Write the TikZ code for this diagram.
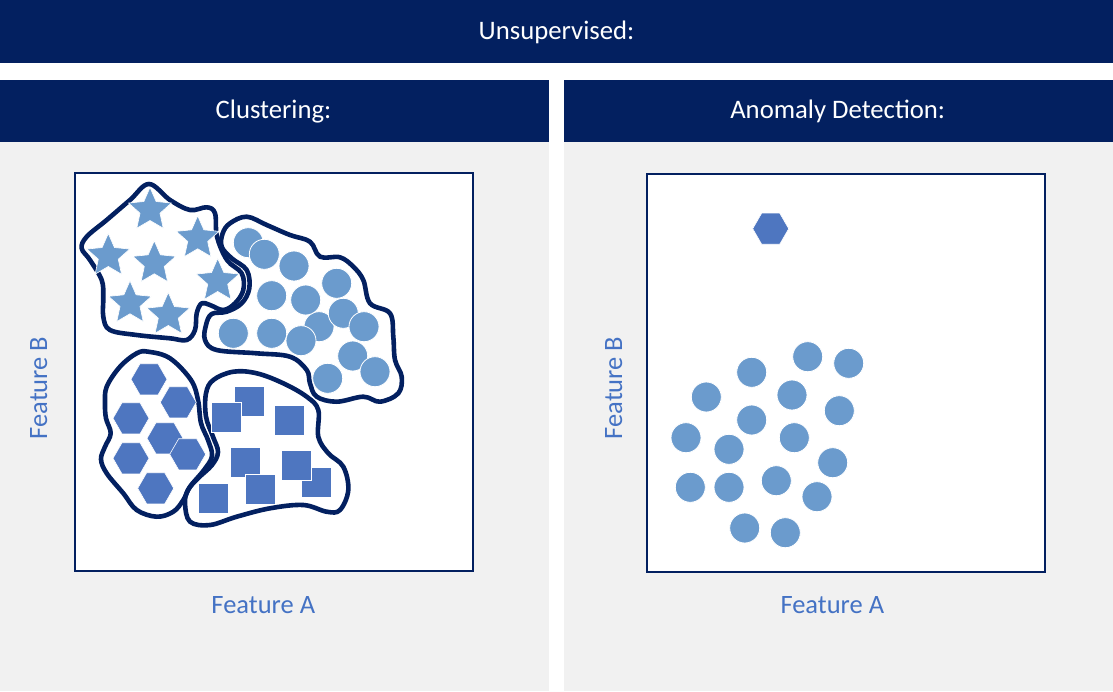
\documentclass[tikz,border=0pt]{standalone}
\usepackage{fontspec}
\setmainfont{Carlito}
\usetikzlibrary{shapes.geometric}

\definecolor{navy}{HTML}{032060}
\definecolor{panelgray}{HTML}{F1F1F1}
\definecolor{lightblue}{HTML}{6B9BCD}
\definecolor{midblue}{HTML}{4E76C0}
\definecolor{labelblue}{HTML}{4472C4}

\tikzset{
  headtext/.style={text=white, font=\fontsize{26.7}{30}\selectfont, anchor=base, inner sep=0pt},
  axistext/.style={text=labelblue, font=\fontsize{26.5}{30}\selectfont, anchor=base, inner sep=0pt},
  plotbox/.style={draw=navy, fill=white, line width=2pt, minimum width=398pt, minimum height=398pt, inner sep=0pt},
  blob/.style={draw=navy, line width=4.6pt, line join=round},
  starmark/.style={star, star points=5, star point ratio=2.15, minimum size=45pt, inner sep=0pt,
                   fill=lightblue, draw=white, line width=0.6pt},
  dotmark/.style={circle, minimum size=30pt, inner sep=0pt, fill=lightblue, draw=white, line width=0.8pt},
  hexmark/.style={regular polygon, regular polygon sides=6, minimum size=36pt, inner sep=0pt,
                  fill=midblue, draw=white, line width=0.6pt},
  sqmark/.style={rectangle, minimum size=30pt, inner sep=0pt, fill=midblue, draw=white, line width=0.6pt}
}

\begin{document}
\begin{tikzpicture}[x=1pt, y=-1pt]
  \useasboundingbox (0,0) rectangle (1113,691);
  \fill[white] (0,0) rectangle (1113,691);

  % banners and panels
  \fill[navy] (0,0) rectangle (1113,62.7);
  \fill[navy] (0,80) rectangle (549,141.7);
  \fill[navy] (564,80) rectangle (1113,141.7);
  \fill[panelgray] (0,141.7) rectangle (549,691);
  \fill[panelgray] (564,141.7) rectangle (1113,691);

  \node[headtext] (tUnsup) at (556.5,39.3) {Unsupervised:};
  \node[headtext] (tClust) at (273.5,118.3) {Clustering:};
  \node[headtext] (tAnom) at (837.7,118.3) {Anomaly Detection:};

  % plot frames
  \node[plotbox] (boxL) at (274,372) {};
  \node[plotbox] (boxR) at (846,372.5) {};

  % axis labels
  \node[axistext] (xL) at (263.3,613.3) {Feature A};
  \node[axistext, rotate=90] (yL) at (47,388) {Feature B};
  \node[axistext] (xR) at (832.3,613.3) {Feature A};
  \node[axistext, rotate=90] (yR) at (622,388) {Feature B};

  % ---- clustering panel ----
  % cluster outlines
  \draw[blob] plot[smooth cycle, tension=0.6] coordinates {
    (149,184) (170,200) (190,210) (206.7,207.3) (215,213.3) (217,236.7)
    (227,260) (241.7,273.3) (243.3,290) (235,303.3) (223.3,310) (210,305)
    (201.7,303.3) (196.7,313.3) (195,330) (186.7,340) (170,338.3) (136.7,335)
    (110,330) (103.3,316.7) (103.3,296.7) (101.7,280) (90,260) (81.7,248.3)
    (86.7,236.7) (106.7,220) (130,200)};
  \draw[blob] plot[smooth cycle, tension=0.6] coordinates {
    (230,223.3) (246.7,216.7) (266.7,225) (290,235) (310,241.7) (320,256.7)
    (340,257.3) (353.3,266.7) (363.3,280) (370,303.3) (390,313.3) (393.3,336.7)
    (395,360) (401.7,376.7) (398.3,393.3) (380,401.7) (363.3,396.7) (336.7,401.7)
    (316.7,396.7) (310,383.3) (306.7,370) (290,356.7) (256.7,353.3) (216.7,350)
    (205,340) (206,325) (211.7,314) (226.7,311.7) (241.7,303.3) (249.3,288.3)
    (246.7,270) (231.7,258.3) (221.7,246.7) (222.7,233.3)};
  \draw[blob] plot[smooth cycle, tension=0.6] coordinates {
    (148.3,351.7) (170,358.3) (191,380) (198,400) (201,423) (208,440) (212,456)
    (204,470) (190,486.7) (183.3,500) (173.3,511.7) (156.7,516.7) (136.7,510)
    (123.3,493.3) (106.7,473.3) (101,459.3) (105,446.7) (110.7,433.3) (106,418.3)
    (105,403.3) (106.7,386.7) (120,366.7) (136.7,353.3)};
  \draw[blob] plot[smooth cycle, tension=0.6] coordinates {
    (233.3,371.7) (256.7,373.3) (283.3,383.3) (306.7,396.7) (318.3,410)
    (318.3,436.7) (328.3,453.3) (343.3,466.7) (348.3,490) (340,510) (326.7,511.7)
    (303.3,505) (270,508.3) (236.7,516.7) (210,525) (190,521.7) (185,503.3)
    (188,490) (198,478.3) (212,465) (218,452) (213,436.7) (206,416.7)
    (206,393.3) (213.3,380)};

  % stars
  \foreach \px/\py [count=\i] in {150/210, 197.7/238.3, 108.3/256, 154.3/263.3,
                                   217.7/281, 130/303.3, 168.3/315}
    \node[starmark] (star\i) at (\px,\py) {};

  % circles (back ones first)
  \foreach \px/\py [count=\i] in {248.3/242.7, 319/326.7, 264.3/254.3, 294/266,
      336.7/283.3, 271.7/295.7, 305.7/300, 343.3/313.3, 364/326.7, 233.3/333.3,
      271.7/333.3, 301/340.7, 352.7/356, 327.7/378.3, 375/371.7}
    \node[dotmark] (dotL\i) at (\px,\py) {};

  % hexagons
  \foreach \px/\py [count=\i] in {149/379.3, 178.3/402.3, 131/418.3, 165/438.3,
                                   187.7/454.3, 131/458.3, 155.7/488.3}
    \node[hexmark] (hex\i) at (\px,\py) {};

  % squares (back ones first)
  \foreach \px/\py [count=\i] in {249/401.7, 316.7/482.7, 245/462.3, 226.7/417.3,
                                   289.7/420, 296.3/465, 213.3/498.3, 260/489.3}
    \node[sqmark] (sq\i) at (\px,\py) {};

  % ---- anomaly panel ----
  \node[hexmark] (outlier) at (770.7,228.7) {};
  \foreach \px/\py [count=\i] in {807.7/356.7, 848.7/363.3, 751.7/372.3, 706.3/397,
      792/395, 839.3/410.7, 751.7/420, 686/437.7, 729/449.3, 794.3/437.7,
      832.7/462.7, 690.3/487.3, 729/487.3, 776.3/480.7, 817/496.7, 744.7/528,
      785.3/532.7}
    \node[dotmark] (dotR\i) at (\px,\py) {};
\end{tikzpicture}
\end{document}
